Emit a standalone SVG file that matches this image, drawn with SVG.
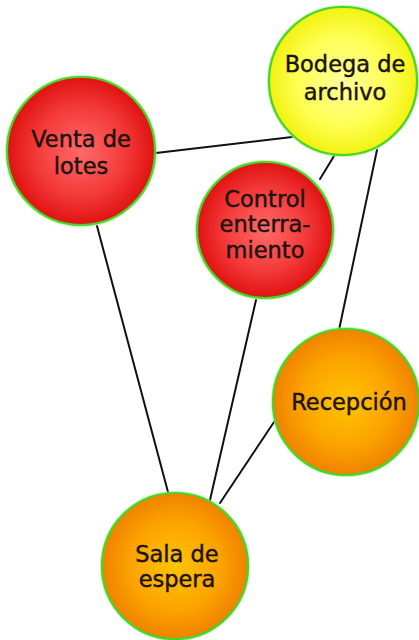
<svg xmlns="http://www.w3.org/2000/svg" width="419" height="640" viewBox="0 0 419 640">
<defs>
<radialGradient id="gRed" cx="50%" cy="50%" r="50%">
<stop offset="0" stop-color="#ff6a6a"/>
<stop offset="0.6" stop-color="#f43a3a"/>
<stop offset="1" stop-color="#e01212"/>
</radialGradient>
<radialGradient id="gYellow" cx="50%" cy="50%" r="50%">
<stop offset="0" stop-color="#ffff9a"/>
<stop offset="0.6" stop-color="#ffff55"/>
<stop offset="1" stop-color="#f2f210"/>
</radialGradient>
<radialGradient id="gOrange" cx="50%" cy="50%" r="50%">
<stop offset="0" stop-color="#ffc400"/>
<stop offset="0.6" stop-color="#fca400"/>
<stop offset="1" stop-color="#f08200"/>
</radialGradient>
</defs>
<style>
.halo{fill:none;stroke:#9cf07c;stroke-width:4;opacity:0.6}
.node circle.b{stroke:#48d428;stroke-width:2.2}
.red{fill:url(#gRed)}
.yellow{fill:url(#gYellow)}
.orange{fill:url(#gOrange)}
text{font-family:"DejaVu Sans",Verdana,sans-serif;font-size:22.5px;fill:#1c1410;stroke:#1c1410;stroke-width:0.45;text-anchor:middle}
.edges line{stroke:#111;stroke-width:2;stroke-linecap:round}
</style>
<g id="connectors" class="edges">
<line x1="156" y1="153" x2="292" y2="137"/>
<line x1="97" y1="226" x2="168" y2="492"/>
<line x1="334" y1="156" x2="320" y2="179"/>
<line x1="377" y1="150" x2="339" y2="330"/>
<line x1="256" y1="300" x2="210" y2="500"/>
<line x1="274" y1="422" x2="220" y2="503"/>
</g>
<g id="venta" class="node">
<circle class="halo" cx="81" cy="151" r="74"/>
<circle class="b red" cx="81" cy="151" r="74"/>
<text x="81" y="147">Venta de</text>
<text x="81" y="174">lotes</text>
</g>
<g id="bodega" class="node">
<circle class="halo" cx="343" cy="81" r="74"/>
<circle class="b yellow" cx="343" cy="81" r="74"/>
<text x="345" y="72">Bodega de</text>
<text x="345" y="100">archivo</text>
</g>
<g id="control" class="node">
<circle class="halo" cx="265" cy="230" r="68"/>
<circle class="b red" cx="265" cy="230" r="68"/>
<text x="265" y="207">Control</text>
<text x="265" y="232">enterra-</text>
<text x="265" y="258">miento</text>
</g>
<g id="recepcion" class="node">
<circle class="halo" cx="346" cy="402" r="73"/>
<circle class="b orange" cx="346" cy="402" r="73"/>
<text x="349" y="410">Recepción</text>
</g>
<g id="sala" class="node">
<circle class="halo" cx="175" cy="566" r="73"/>
<circle class="b orange" cx="175" cy="566" r="73"/>
<text x="177" y="562">Sala de</text>
<text x="177" y="587">espera</text>
</g>
</svg>
